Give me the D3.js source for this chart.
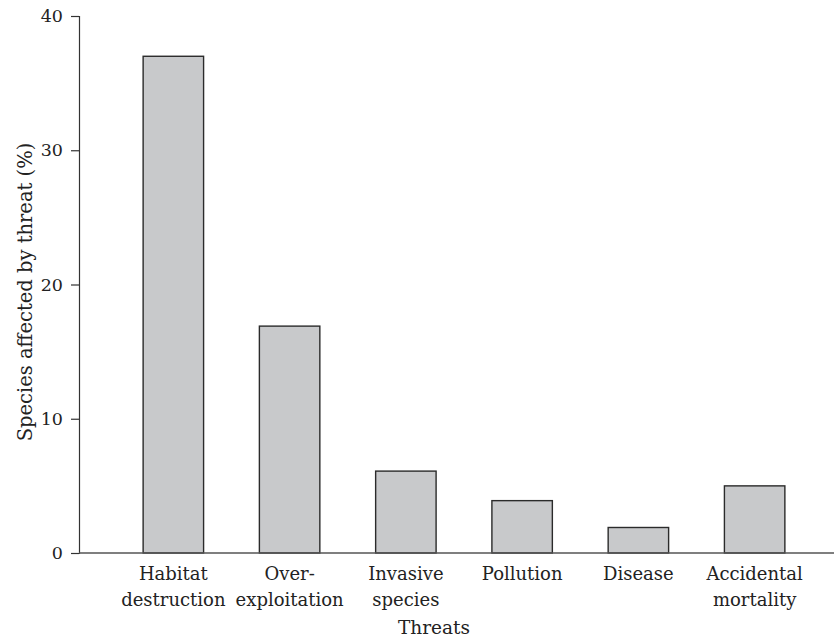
<!DOCTYPE html>
<html>
<head>
<meta charset="utf-8">
<script src="https://cdn.jsdelivr.net/npm/d3@7"></script>
<style>
  body { margin: 0; background: #fff; }
  text { font-family: "DejaVu Serif", serif; fill: #222; }
</style>
</head>
<body>
<div id="chart"></div>
<script>
// data
const threats = [
  ["Habitat", "destruction"],
  ["Over-", "exploitation"],
  ["Invasive", "species"],
  ["Pollution"],
  ["Disease"],
  ["Accidental", "mortality"],
];
const values = [37, 16.9, 6.1, 3.9, 1.9, 5.0];
const yTicks = [0, 10, 20, 30, 40];

const width = 835, height = 643;

//scale
const x = d3
  .scaleBand()
  .domain(d3.range(threats.length))
  .range([85, 843])
  .paddingInner(0.48)
  .paddingOuter(0.5);

const y = d3.scaleLinear().domain([0, 40]).range([553, 16]);

const svg = d3
  .select("#chart")
  .append("svg")
  .attr("width", width)
  .attr("height", height);

//bars
svg
  .append("g")
  .selectAll("rect")
  .data(values)
  .join("rect")
  .attr("x", (d, i) => x(i))
  .attr("y", (d) => y(d))
  .attr("width", x.bandwidth())
  .attr("height", (d) => y(0) - y(d))
  .attr("fill", "#c8c9cb")
  .attr("stroke", "#2b2b2b")
  .attr("stroke-width", 1.4);

//y-axis
const yAxis = svg
  .append("g")
  .attr("transform", "translate(79,0)")
  .call(d3.axisLeft(y).tickValues(yTicks).tickSize(8).tickPadding(8));
yAxis.select(".domain").attr("stroke", "#333").attr("stroke-width", 1.2);
yAxis.selectAll(".tick line").attr("stroke", "#333").attr("stroke-width", 1.2);
yAxis
  .selectAll(".tick text")
  .style("font-family", "DejaVu Serif, serif")
  .style("font-size", "17.5px")
  .attr("fill", "#222");

//x-axis line
svg
  .append("line")
  .attr("x1", 79)
  .attr("x2", 834)
  .attr("y1", y(0))
  .attr("y2", y(0))
  .attr("stroke", "#555")
  .attr("stroke-width", 1.4);

//category labels
svg
  .append("g")
  .selectAll("text")
  .data(threats)
  .join("text")
  .attr("text-anchor", "middle")
  .attr("font-size", 18)
  .attr("x", (d, i) => x(i) + x.bandwidth() / 2)
  .attr("y", 580)
  .selectAll("tspan")
  .data((d) => d)
  .join("tspan")
  .attr("x", function () {
    return this.parentNode.getAttribute("x");
  })
  .attr("dy", (d, i) => (i === 0 ? 0 : 26))
  .text((d) => d);

//axis titles
svg
  .append("text")
  .attr("x", 434)
  .attr("y", 634)
  .attr("text-anchor", "middle")
  .attr("font-size", 18.5)
  .text("Threats");

svg
  .append("text")
  .attr("transform", "translate(32,292) rotate(-90)")
  .attr("text-anchor", "middle")
  .attr("font-size", 19.5)
  .text("Species affected by threat (%)");
</script>
</body>
</html>
